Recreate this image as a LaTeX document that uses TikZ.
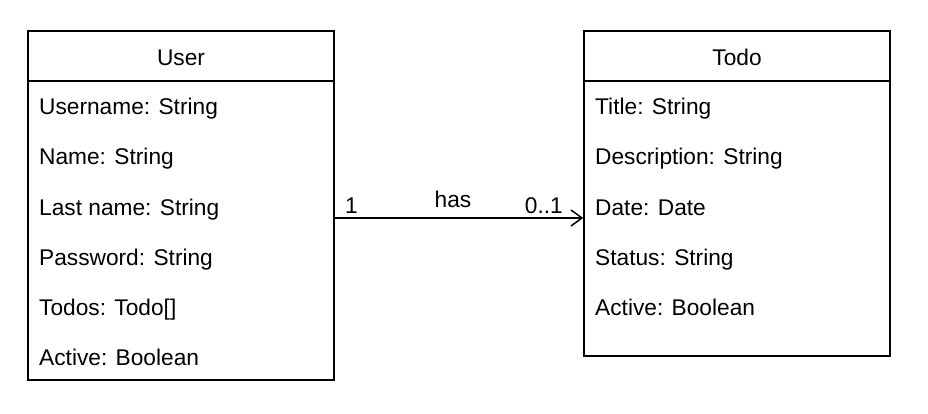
\documentclass[tikz,border=0pt]{standalone}
\usepackage{fontspec}
\setmainfont{Liberation Sans}
\usetikzlibrary{arrows.meta}
\begin{document}
\begin{tikzpicture}[x=1pt,y=-1pt,
  cls/.style={draw,line width=1.5pt,inner sep=0pt,fill=white},
  attr/.style={anchor=base west,inner sep=0pt,font=\fontsize{22.7}{27}\selectfont},
  lbl/.style={inner sep=0pt,font=\fontsize{22.7}{27}\selectfont},
  conn/.style={line width=1.5pt,-{Straight Barb[length=11pt,width=16pt,line width=1.5pt]}}]
\useasboundingbox (0,0) rectangle (928,414);
\fill[white] (0,0) rectangle (928,414);
% User class
\node[cls,minimum width=306pt,minimum height=349pt] (user) at (181,205.5) {};
\draw[line width=1.5pt] (28,81) -- (334,81);
\node[lbl,anchor=base] (userT) at (181,65.5) {User};
\node[attr] (u1) at (39,115) {Username: String};
\node[attr] (u2) at (39,165) {Name: String};
\node[attr] (u3) at (39,215) {Last name: String};
\node[attr] (u4) at (39,265) {Password: String};
\node[attr] (u5) at (39,315) {Todos: Todo[]};
\node[attr] (u6) at (39,365) {Active: Boolean};
% Todo class
\node[cls,minimum width=306pt,minimum height=325pt] (todo) at (737,193.5) {};
\draw[line width=1.5pt] (584,81) -- (890,81);
\node[lbl,anchor=base] (todoT) at (737,65.5) {Todo};
\node[attr] (t1) at (595,115) {Title: String};
\node[attr] (t2) at (595,165) {Description: String};
\node[attr] (t3) at (595,215) {Date: Date};
\node[attr] (t4) at (595,265) {Status: String};
\node[attr] (t5) at (595,315) {Active: Boolean};
% association
\coordinate (a) at (0,218);
\draw[conn] (user.east |- a) -- (todo.west |- a);
\node[lbl,anchor=base west] (m1) at (345,213.5) {1};
\node[lbl,anchor=base] (has) at (453,207.5) {has};
\node[lbl,anchor=base east] (m2) at (563,213.5) {0..1};
\end{tikzpicture}
\end{document}
